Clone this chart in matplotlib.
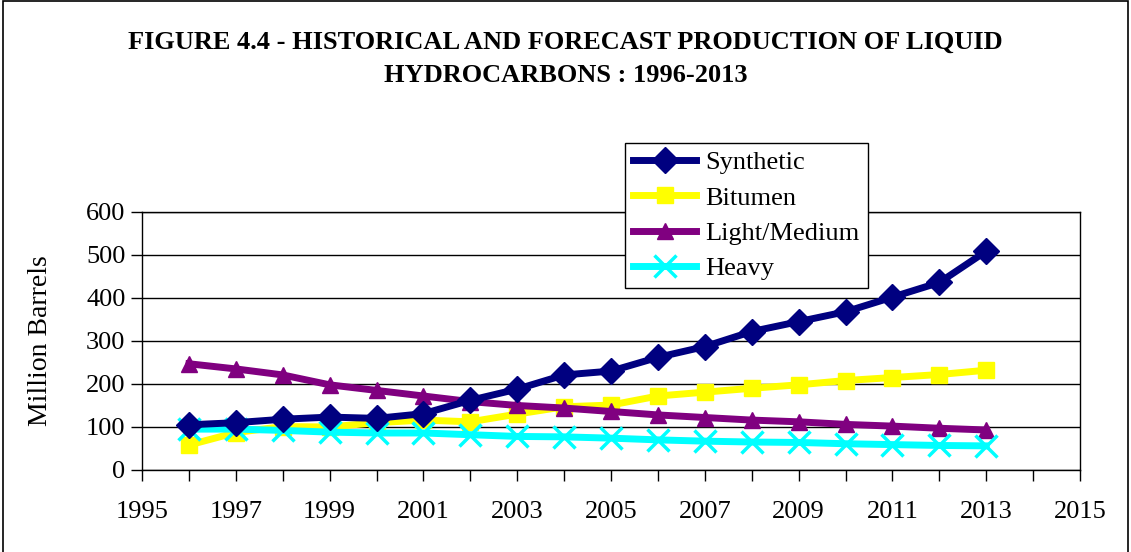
import matplotlib
matplotlib.use("Agg")
import matplotlib.pyplot as plt
from matplotlib.patches import Rectangle

years = list(range(1996, 2014))
synthetic = [105, 110, 118, 123, 120, 131, 162, 188, 221, 230, 262, 287, 322, 345, 368, 402, 436, 509]
bitumen = [58, 87, 101, 100, 110, 116, 112, 130, 147, 151, 172, 181, 190, 198, 208, 215, 222, 232]
light_medium = [247, 235, 221, 198, 185, 172, 159, 150, 144, 136, 128, 122, 116, 112, 106, 102, 97, 93]
heavy = [95, 95, 92, 88, 86, 86, 82, 78, 77, 74, 70, 67, 65, 64, 61, 59, 57, 56]

title = "FIGURE 4.4 - HISTORICAL AND FORECAST PRODUCTION OF LIQUID\nHYDROCARBONS : 1996-2013"
ylabel = "Million Barrels"

plt.rcParams['font.family'] = ['Liberation Serif', 'DejaVu Serif']

fig = plt.figure(figsize=(11.31, 5.52), dpi=100)
ax = fig.add_axes([0.1256, 0.1486, 0.955 - 0.1256, 0.616 - 0.1486])

ax.plot(years, synthetic, color='#000080', lw=5, marker='D', ms=13, label='Synthetic', zorder=4)
ax.plot(years, bitumen, color='#FFFF00', lw=5, marker='s', ms=11, label='Bitumen', zorder=3)
ax.plot(years, light_medium, color='#800080', lw=5, marker='^', ms=12, label='Light/Medium', zorder=3)
ax.plot(years, heavy, color='#00FFFF', lw=5, marker='x', ms=16, mew=2.5, label='Heavy', zorder=3)

ax.set_xlim(1995, 2015)
ax.set_ylim(0, 600)
ax.set_yticks(range(0, 601, 100))
ax.set_xticks(range(1995, 2016))
ax.set_xticklabels([str(y) if (y - 1995) % 2 == 0 else '' for y in range(1995, 2016)])
ax.yaxis.grid(True, color='black', lw=1)
ax.set_axisbelow(True)
for s in ax.spines.values():
    s.set_color('black')
    s.set_linewidth(1)
ax.tick_params(axis='both', direction='out', length=8, width=1, labelsize=19, colors='black')
ax.tick_params(axis='x', pad=14)
ax.tick_params(axis='y', pad=4)
ax.set_ylabel(ylabel, fontsize=20, labelpad=24)

leg = fig.legend(loc='upper left', bbox_to_anchor=(625 / 1131, 1 - 143 / 552), fontsize=19,
                 frameon=True, fancybox=False, edgecolor='black', framealpha=1,
                 handlelength=2.4, handletextpad=0.35, labelspacing=0.45, borderpad=0.3,
                 borderaxespad=0)
leg.get_frame().set_linewidth(1)

fig.text(0.5, 0.945, title, ha='center', va='top', fontsize=19, fontweight='bold', linespacing=1.6)

fig.patches.append(Rectangle((0.003, -0.01), 0.994, 1.008, transform=fig.transFigure,
                             fill=False, edgecolor='black', lw=1.2))

fig.savefig('out.png', dpi=100)
